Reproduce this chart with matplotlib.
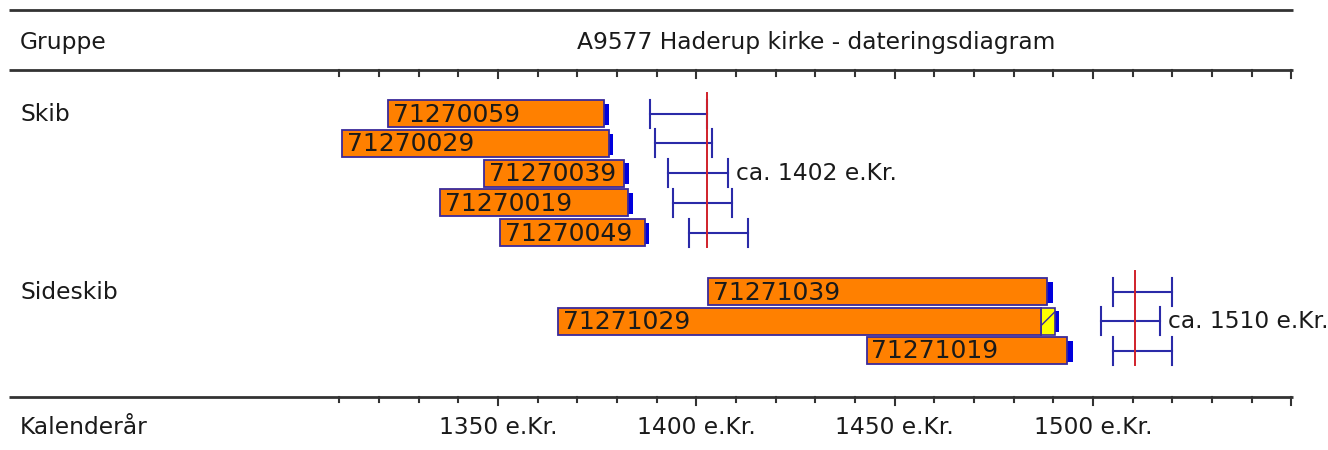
import matplotlib
matplotlib.use("Agg")
import matplotlib.pyplot as plt
from matplotlib.patches import Rectangle

# ---------------- data ----------------
title = "A9577 Haderup kirke - dateringsdiagram"
group_names = ["Skib", "Sideskib"]

skib_ids = ["71270059", "71270029", "71270039", "71270019", "71270049"]
skib_start = [1322.3, 1310.7, 1346.5, 1335.4, 1350.5]
skib_heart_end = [1376.7, 1378.0, 1381.8, 1382.7, 1387.1]
skib_sap_end = [1376.7, 1378.0, 1381.8, 1382.7, 1387.1]
skib_end = [1377.9, 1379.1, 1383.0, 1384.1, 1388.1]
skib_fell_lo = [1388.3, 1389.5, 1392.9, 1394.0, 1398.2]
skib_fell_hi = [1402.8, 1404.0, 1408.0, 1409.0, 1413.1]
skib_date = 1402

side_ids = ["71271039", "71271029", "71271019"]
side_start = [1403.0, 1365.2, 1442.9]
side_heart_end = [1488.3, 1487.0, 1493.4]
side_sap_end = [1488.3, 1490.4, 1493.4]
side_end = [1489.8, 1491.5, 1494.9]
side_fell_lo = [1505.1, 1502.0, 1505.1]
side_fell_hi = [1519.8, 1516.8, 1519.8]
side_date = 1510

tick_years = [1350, 1400, 1450, 1500]
tick_labels = ["1350 e.Kr.", "1400 e.Kr.", "1450 e.Kr.", "1500 e.Kr."]
minor_start, minor_end, minor_step = 1310, 1550, 10

# ---------------- styling / layout ----------------
ORANGE = "#FF8000"
EDGE = "#3A2A9A"
BLUE = "#0000DD"
ERR = "#2A2AA8"
RED = "#D0202A"
RULE = "#333333"
TXT = "#1a1a1a"
FONT = "DejaVu Sans"
FS = 16.8
FS_ID = 18

W, H = 1328, 450
fig = plt.figure(figsize=(W / 100, H / 100), dpi=100)
ax = fig.add_axes([0, 0, 1, 1])
px_per_year = 3.967
x0_year = 1350 - 498 / px_per_year
x1_year = 1350 + (W - 498) / px_per_year
ax.set_xlim(x0_year, x1_year)
ax.set_ylim(H, 0)
ax.axis("off")

def px2yr(px):
    return x0_year + px / px_per_year

left_yr = px2yr(9)
right_yr = px2yr(1293)

# horizontal rules
ax.plot([left_yr, right_yr], [10, 10], color=RULE, lw=2.0, solid_capstyle="butt")
ax.plot([left_yr, right_yr], [70, 70], color=RULE, lw=2.0, solid_capstyle="butt")
ax.plot([left_yr, right_yr], [397, 397], color=RULE, lw=2.0, solid_capstyle="butt")

# ticks
for yr in range(minor_start, minor_end + 1, minor_step):
    major = (yr % 50 == 0)
    ax.plot([yr, yr], [70, 78 if major else 76], color=RULE, lw=1.5)
    ax.plot([yr, yr], [397, 405 if major else 402], color=RULE, lw=1.5)

# header texts
ax.text(px2yr(20), 42, "Gruppe", fontsize=FS, color=TXT, family=FONT, va="center", ha="left")
ax.text(px2yr(816), 42, title, fontsize=FS, color=TXT, family=FONT, va="center", ha="center")
ax.text(px2yr(20), 428, "Kalenderår", fontsize=FS, color=TXT, family=FONT, va="center", ha="left")
for yr, lab in zip(tick_years, tick_labels):
    ax.text(yr, 428, lab, fontsize=FS, color=TXT, family=FONT, va="center", ha="center")

BAR_H = 27

def draw_group(name, y_first, pitch, ids, start, heart_end, sap_end, end, lo, hi, date):
    n = len(ids)
    ys = [y_first + i * pitch for i in range(n)]
    ax.text(px2yr(20), ys[0] + 1, name, fontsize=FS, color=TXT, family=FONT, va="center", ha="left")
    for i in range(n):
        yc = ys[i]
        # blue end marker
        ax.add_patch(Rectangle((sap_end[i], yc - BAR_H * 0.36), end[i] - sap_end[i], BAR_H * 0.78,
                               facecolor=BLUE, edgecolor="none", zorder=2))
        # sapwood (hatched yellow)
        if sap_end[i] > heart_end[i]:
            ax.add_patch(Rectangle((heart_end[i], yc - BAR_H / 2), sap_end[i] - heart_end[i], BAR_H,
                                   facecolor="#FFFF00", edgecolor=EDGE, hatch="/", lw=1.2, zorder=3))
        # heartwood bar
        ax.add_patch(Rectangle((start[i], yc - BAR_H / 2), heart_end[i] - start[i], BAR_H,
                               facecolor=ORANGE, edgecolor=EDGE, lw=1.3, zorder=3))
        ax.text(start[i] + 1.2, yc + 1, ids[i], fontsize=FS_ID, color=TXT, family=FONT,
                va="center", ha="left", zorder=4)
        # felling range
        ax.plot([lo[i], hi[i]], [yc, yc], color=ERR, lw=1.5, zorder=3)
        for xx in (lo[i], hi[i]):
            ax.plot([xx, xx], [yc - 14, yc + 14], color=ERR, lw=1.5, zorder=3)
    ax.plot([date + 0.6, date + 0.6], [ys[0] - 21, ys[-1] + 14], color=RED, lw=1.4, zorder=4)
    mid = n // 2
    ax.annotate(f"ca. {date} e.Kr.", xy=(hi[mid], ys[mid]), xytext=(6, 0),
                textcoords="offset points", fontsize=FS, color=TXT, family=FONT,
                va="center", ha="left")

draw_group(group_names[0], 113.5, 29.8, skib_ids, skib_start, skib_heart_end, skib_sap_end,
           skib_end, skib_fell_lo, skib_fell_hi, skib_date)
draw_group(group_names[1], 291.5, 29.5, side_ids, side_start, side_heart_end, side_sap_end,
           side_end, side_fell_lo, side_fell_hi, side_date)

fig.savefig("out.png", dpi=100, facecolor="white")
